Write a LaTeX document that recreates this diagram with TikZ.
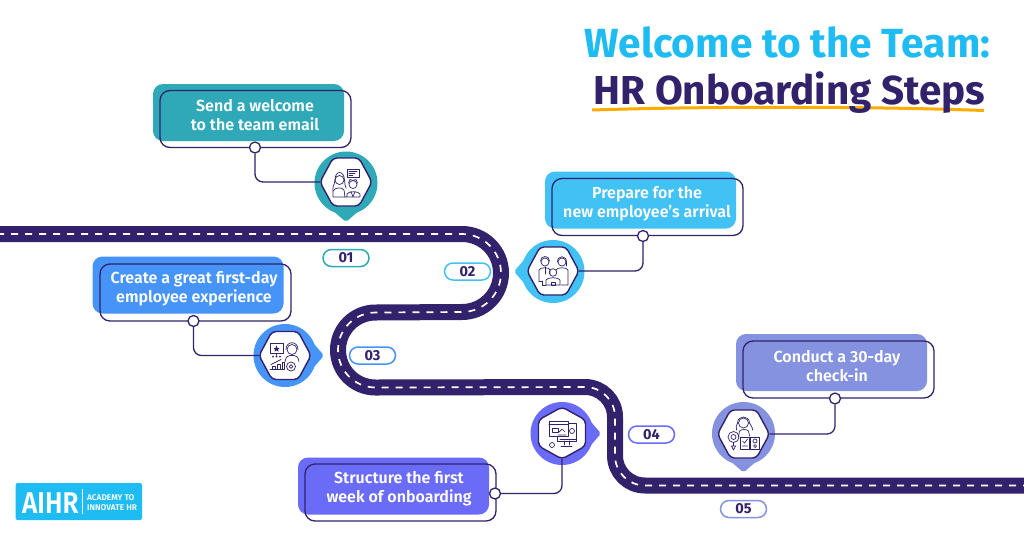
\documentclass[tikz,border=0pt]{standalone}
\usepackage{fontspec}
\setmainfont{Fira Sans}
\newfontfamily\semi{Fira Sans SemiBold}
\newfontfamily\heavy{Fira Sans Bold}
\definecolor{navy}{HTML}{31226B}
\definecolor{cA}{HTML}{2FA9B8}
\definecolor{cB}{HTML}{42C1F5}
\definecolor{cC}{HTML}{4694F8}
\definecolor{cD}{HTML}{6A6CF8}
\definecolor{cE}{HTML}{8492E0}
\definecolor{sky}{HTML}{1FBCF4}
\definecolor{gold}{HTML}{FFAB00}
\tikzset{
 x=1pt,y=-1pt,
 road/.style={draw=navy,line width=16pt},
 roadmark/.style={draw=white,line width=1.7pt,dash pattern=on 7pt off 7pt},
 backbox/.style={rounded corners=10pt,minimum width=191pt,minimum height=57pt,inner sep=0pt},
 framebox/.style={draw=navy,line width=1.3pt,rounded corners=10pt,minimum width=191pt,minimum height=57pt,inner sep=0pt},
 steptext/.style={text=white,font=\semi\fontsize{16}{19}\selectfont,align=center,inner sep=0pt},
 dot/.style={circle,draw=navy,fill=white,line width=1.3pt,minimum size=11pt,inner sep=0pt},
 link/.style={draw=navy,line width=1.3pt,rounded corners=8pt},
 pill/.style={draw,fill=white,line width=1.5pt,rounded corners=8.5pt,minimum width=46pt,minimum height=17pt,inner sep=0pt,text=navy,font=\heavy\fontsize{14.5}{16}\selectfont},
 hexA/.style={minimum width=52pt,minimum height=48pt,inner sep=0pt},
 hexB/.style={minimum width=47pt,minimum height=52pt,inner sep=0pt},
 ico/.style={draw=navy,line width=0.7pt,fill=none,line join=round,line cap=round},
}
\newcommand{\pinmark}[4]{% x y colour rotation
 \begin{scope}[shift={(#1,#2)},rotate=#4]
  \fill[#3] (0,0) circle[radius=31.5pt];
  \fill[#3,rounded corners=2pt] (-15,26) -- (0,39) -- (15,26) -- cycle;
 \end{scope}}
\newcommand{\hexflat}[2]{\draw[navy,fill=white,line width=1.4pt,rounded corners=4pt,shift={(#1,#2)}]
 (-26,0) -- (-13,-24) -- (13,-24) -- (26,0) -- (13,24) -- (-13,24) -- cycle;}
\newcommand{\hexpoint}[2]{\draw[navy,fill=white,line width=1.4pt,rounded corners=4pt,shift={(#1,#2)}]
 (0,-26) -- (23.5,-13) -- (23.5,13) -- (0,26) -- (-23.5,13) -- (-23.5,-13) -- cycle;}
\begin{document}
\begin{tikzpicture}
\useasboundingbox (0,0) rectangle (1024,536);
\fill[white] (0,0) rectangle (1024,536);
% road
\path[road] (-3,234) -- (462,234) arc[start angle=90,end angle=-90,radius=39pt] -- (375.5,312.5)
  arc[start angle=90,end angle=270,radius=37.5pt] -- (585,387) arc[start angle=90,end angle=0,radius=30pt]
  -- (615,455.5) arc[start angle=180,end angle=270,radius=30pt] -- (1027,485.5);
\path[roadmark] (-3,234) -- (462,234) arc[start angle=90,end angle=-90,radius=39pt] -- (375.5,312.5)
  arc[start angle=90,end angle=270,radius=37.5pt] -- (585,387) arc[start angle=90,end angle=0,radius=30pt]
  -- (615,455.5) arc[start angle=180,end angle=270,radius=30pt] -- (1027,485.5);
% title
\draw[gold,line width=3pt] (592,110) .. controls (700,106.5) and (860,106) .. (984,110.5);
\node[anchor=base,inner sep=0pt,text=sky,font=\heavy\fontsize{40.7}{44}\selectfont] (title1) at (787.5,57) {Welcome to the Team:};
\node[anchor=base,inner sep=0pt,text=navy,font=\heavy\fontsize{40.4}{44}\selectfont] (title2) at (789.5,104) {HR Onboarding Steps};
% boxes
\node[backbox,fill=cA] (back1) at (248.5,112.5) {};
\node[framebox] (frame1) at (255.5,119) {};
\node[steptext] (text1) at (255,115) {Send a welcome\\to the team email};
\node[backbox,fill=cB] (back2) at (640.5,200) {};
\node[framebox] (frame2) at (647.5,207) {};
\node[steptext] (text2) at (647,203.5) {Prepare for the\\new employee’s arrival};
\node[backbox,fill=cC] (back3) at (188,285) {};
\node[framebox] (frame3) at (195.5,292.5) {};
\node[steptext] (text3) at (194,288.5) {Create a great first-day\\employee experience};
\node[backbox,fill=cD] (back4) at (393.5,486) {};
\node[framebox] (frame4) at (400.5,492.5) {};
\node[steptext] (text4) at (399,489) {Structure the first\\week of onboarding};
\node[backbox,fill=cE] (back5) at (831.5,362.5) {};
\node[framebox] (frame5) at (838.5,369.5) {};
\node[steptext] (text5) at (837,366) {Conduct a 30-day\\check-in};
% pins
\pinmark{346}{183}{cA}{0}
\pinmark{553}{271.5}{cB}{-90}
\pinmark{285}{355.5}{cC}{90}
\pinmark{562}{433.5}{cD}{90}
\pinmark{743.5}{433.5}{cE}{0}
\hexflat{346}{182}
\hexflat{553}{271}
\hexflat{285}{355.5}
\hexpoint{562}{433}
\hexflat{743.5}{434}
\node[hexA] (hex1) at (346,182) {};
\node[hexA] (hex2) at (553,271) {};
\node[hexA] (hex3) at (285,355.5) {};
\node[hexB] (hex4) at (562,433) {};
\node[hexA] (hex5) at (743.5,434) {};
% connectors
\node[dot] (dot1) at (255,147.5) {};
\node[dot] (dot2) at (643,236) {};
\node[dot] (dot3) at (193.5,321) {};
\node[dot] (dot4) at (495,493.5) {};
\node[dot] (dot5) at (835,398.5) {};
\path[link] (dot1.south) |- (hex1.west);
\path[link] (dot2.south) |- (hex2.east);
\path[link] (dot3.south) |- (hex3.west);
\path[link] (dot4.east) -| (hex4.south);
\path[link] (dot5.south) |- (hex5.east);
% number labels
\node[pill,draw=cA] (num1) at (346,258) {01};
\node[pill,draw=cB] (num2) at (467.5,271.5) {02};
\node[pill,draw=cC] (num3) at (372.5,355.5) {03};
\node[pill,draw=cD] (num4) at (651.5,434.5) {04};
\node[pill,draw=cE] (num5) at (743.5,509) {05};
% icon 1
\begin{scope}[shift={(346,182)},ico]
 \draw (-6.5,-2) circle[radius=4.5];
 \draw (-11,-2) .. controls (-11,-12) and (-2,-12) .. (-1.5,-2) .. controls (-1,2) and (-1,4) .. (0,6);
 \draw (-11,-2) .. controls (-11.5,3) and (-14,6) .. (-13,9);
 \draw (-13,15) -- (-13,9) .. controls (-11,5) and (-4,5) .. (-2,8) -- (-1,15) -- cycle;
 \draw (1,-13) rectangle (13,-5);
 \draw (3,-11) -- (11,-11) (3,-9) -- (9,-9) (3,-7) -- (7,-7);
 \draw (7,2.5) circle[radius=4];
 \draw (2.5,1) -- (4,-2.5) -- (7,-1.5) -- (10,-2.5) -- (11.5,1);
 \draw (-1,15) -- (14,15) -- (14,12) .. controls (13,9) and (2,9) .. (1,12) -- (1,15);
 \draw (5,9.5) -- (7,15) -- (9,9.5);
\end{scope}
% icon 2
\begin{scope}[shift={(553,271)},ico]
 \draw (-8,-9) circle[radius=4];
 \draw (9,-9) circle[radius=4];
 \draw (-12.5,-10) .. controls (-12.5,-16) and (-3.5,-16) .. (-3.5,-10);
 \draw (4.5,-9) .. controls (4.5,-16) and (13.5,-16) .. (13.5,-9) -- (13.5,-5);
 \draw (-14,10) -- (-14,-1) .. controls (-13,-4) and (-3,-4) .. (-3,-1) -- (-3,3);
 \draw (3,-1) .. controls (4,-4) and (14,-4) .. (15,-1) -- (15,14) -- (8,14);
 \draw (-14,10) -- (-11,10) (-11,10) -- (-11,14) -- (-7,14) (-8,-4) -- (-8,3);
 \draw (0,1.5) circle[radius=3.8];
 \draw (-7,14) -- (-7,9) .. controls (-6,6) and (6,6) .. (7,9) -- (7,14) -- cycle;
 \draw (-2,11) rectangle (2,14);
\end{scope}
% icon 3
\begin{scope}[shift={(285,355.5)},ico]
 \draw (-15,-12) rectangle (-2,-2);
 \fill[navy] (-8.5,-10) -- (-7.5,-7.5) -- (-5.5,-7.5) -- (-7,-6) -- (-6.5,-4) -- (-8.5,-5) -- (-10.5,-4) -- (-10,-6) -- (-11.5,-7.5) -- (-9.5,-7.5) -- cycle;
 \fill[navy] (-12,1) circle[radius=1] (-8.5,1) circle[radius=1] (-5,1) circle[radius=1];
 \draw (-8.5,-2) -- (-8.5,0);
 \draw (-15,14) -- (-1,14);
 \draw (-13,14) -- (-13,11) -- (-10,11) -- (-10,14) (-8,14) -- (-8,9) -- (-5,9) -- (-5,14) (-3,14) -- (-3,7) -- (-1,7) -- (-1,14);
 \draw (-14,9) -- (-8,6) -- (-4,4);
 \draw (7,-6) circle[radius=5];
 \draw (1,-6) .. controls (1,-15) and (13,-15) .. (13,-6);
 \draw (0,6) .. controls (1,1) and (3,0) .. (5,0) -- (9,0) .. controls (11,0) and (13,1) .. (14,6);
 \draw (6,11) circle[radius=4.5] (6,11) circle[radius=1.8];
\end{scope}
% icon 4
\begin{scope}[shift={(562,433)},ico]
 \draw (-5,-10) rectangle (14,8);
 \draw[fill=white] (-13,-12) rectangle (6,3);
 \draw (-13,-9) -- (6,-9);
 \draw (-10,-5) rectangle (-4,-1);
 \draw (-3,-1) -- (0,-4) -- (3,-1) (-4,2) -- (4,2);
 \draw (10,-2) circle[radius=2.5];
 \draw (2,8) -- (2,12) (7,8) -- (7,12) (-1,13) -- (10,13) (-2,6) -- (14,6);
 \draw (-10,12) circle[radius=2.5];
\end{scope}
% icon 5
\begin{scope}[shift={(743.5,434)},ico]
 \draw (0,-11) circle[radius=5];
 \draw (-6,-11) .. controls (-6,-19) and (6,-19) .. (6,-11) .. controls (7,-8) and (9,-8) .. (9,-4);
 \draw (-6,-11) .. controls (-7,-8) and (-8,-7) .. (-7,-4);
 \draw (-5,3) -- (-4,-3) .. controls (-2,-5) and (3,-5) .. (5,-3) -- (6,2);
 \draw (-10,3) circle[radius=5.5] (-10,3) circle[radius=2.5];
 \draw (-10,8.5) -- (-10,12) (-12,12) -- (-8,12) -- (-10,16) -- cycle;
 \draw (-3,3) rectangle (6,15) (7,3) rectangle (16,15);
 \draw (-1,7) -- (1,9) -- (4,5) (-1,12) -- (4,12);
 \draw (11.5,7) circle[radius=2] (11.5,12) circle[radius=1.5];
\end{scope}
% logo
\fill[sky,rounded corners=2pt] (15.7,483) rectangle (142,520);
\node[anchor=base west,inner sep=0pt,text=white,font=\semi\fontsize{30}{30}\selectfont] (logoA) at (22,513) {\scalebox{0.87}[1]{AIHR}};
\draw[white,line width=0.8pt] (82,489) -- (82,514);
\node[anchor=west,inner sep=0pt,text=white,font=\semi\fontsize{8.3}{9.5}\selectfont,align=left] (logoB) at (87,502.5) {ACADEMY TO\\INNOVATE HR};
\end{tikzpicture}
\end{document}
